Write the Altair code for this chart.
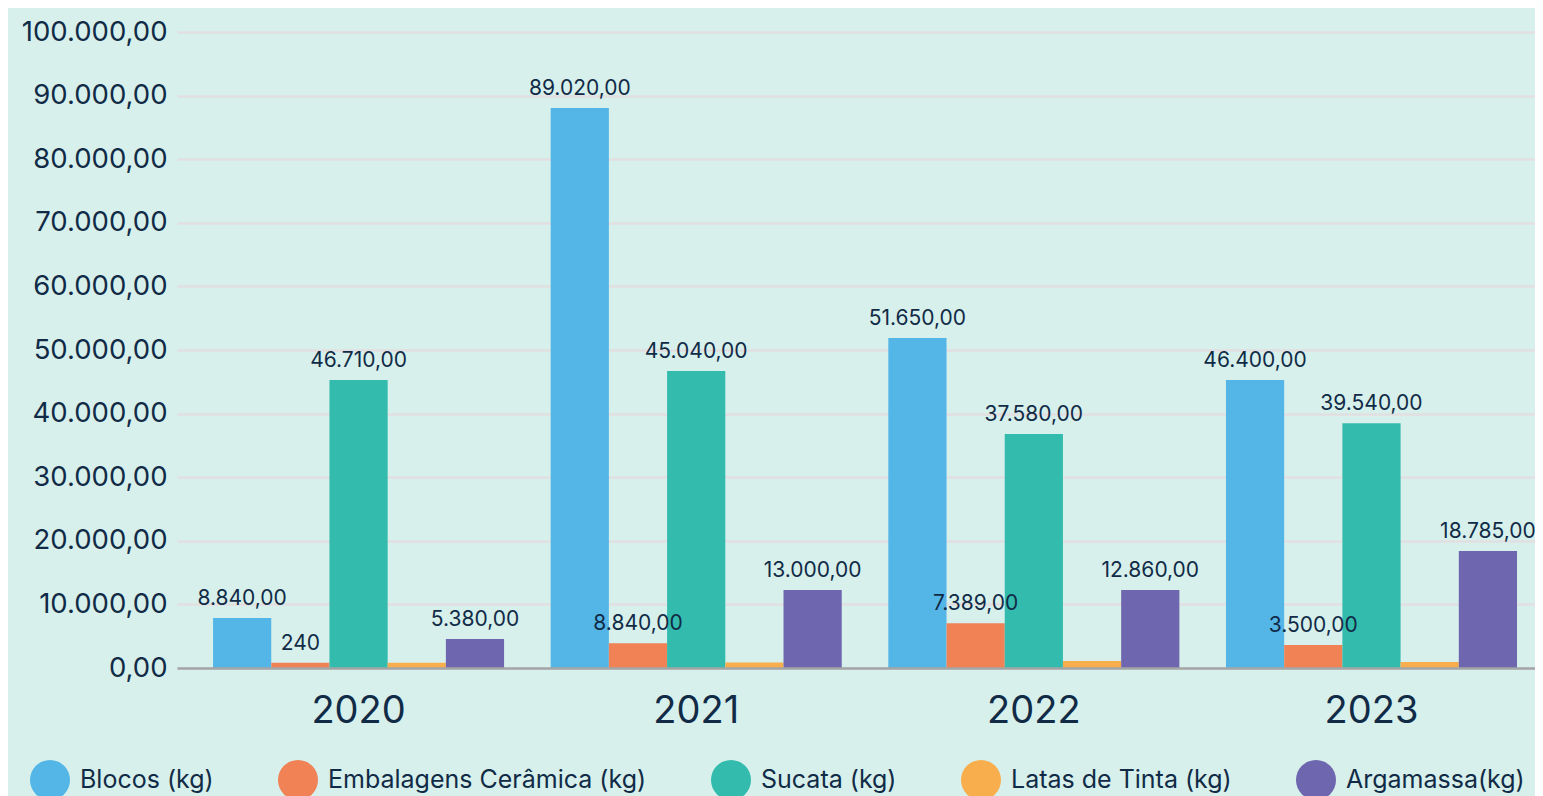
import altair as alt
import pandas as pd

years = ["2020", "2021", "2022", "2023"]
series = ["Blocos (kg)", "Embalagens Cerâmica (kg)", "Sucata (kg)", "Latas de Tinta (kg)", "Argamassa(kg)"]
colors = ["#54b6e7", "#f08256", "#33bbad", "#f8ae4c", "#6e66ae"]

blocos = [7850, 88050, 51900, 45300]
embalagens = [830, 3900, 7050, 3600]
sucata = [45300, 46700, 36800, 38500]
latas = [830, 850, 1100, 950]
argamassa = [4550, 12250, 12250, 18400]

blocos_lbl = ["8.840,00", "89.020,00", "51.650,00", "46.400,00"]
embalagens_lbl = ["240", "8.840,00", "7.389,00", "3.500,00"]
sucata_lbl = ["46.710,00", "45.040,00", "37.580,00", "39.540,00"]
latas_lbl = ["", "", "", ""]
argamassa_lbl = ["5.380,00", "13.000,00", "12.860,00", "18.785,00"]

y_ticks = [0, 10000, 20000, 30000, 40000, 50000, 60000, 70000, 80000, 90000, 100000]
y_tick_labels = ["0,00", "10.000,00", "20.000,00", "30.000,00", "40.000,00", "50.000,00",
                 "60.000,00", "70.000,00", "80.000,00", "90.000,00", "100.000,00"]

values = [blocos, embalagens, sucata, latas, argamassa]
labels = [blocos_lbl, embalagens_lbl, sucata_lbl, latas_lbl, argamassa_lbl]

rows = []
for s, vals, lbls in zip(series, values, labels):
    for y, v, l in zip(years, vals, lbls):
        rows.append({"ano": y, "serie": s, "valor": v, "rotulo": l})
df = pd.DataFrame(rows)

NAVY = "#112b47"
FONT = "Inter"

label_expr = "[" + ",".join("'%s'" % t for t in y_tick_labels) + "][round(datum.value/10000)]"

x_enc = alt.X("ano:N", sort=years,
              scale=alt.Scale(paddingInner=0.138, paddingOuter=0.08, align=0.667),
              axis=alt.Axis(title=None, labelAngle=0, labelFontSize=38, labelColor=NAVY,
                            labelFont=FONT, ticks=False, labelPadding=24,
                            domainColor="#a3a6a6", domainWidth=2.5, zindex=1))
xoff_enc = alt.XOffset("serie:N", sort=series, scale=alt.Scale(domain=series, paddingInner=0, paddingOuter=0))
y_enc = alt.Y("valor:Q", scale=alt.Scale(domain=[0, 100000], nice=False),
              axis=alt.Axis(title=None, values=y_ticks, labelExpr=label_expr, labelFontSize=27.5,
                            labelColor=NAVY, labelFont=FONT, ticks=False, domain=False,
                            labelPadding=10, gridColor="#e2dfe1", gridWidth=2.5))

bars = alt.Chart(df).mark_bar().encode(
    x=x_enc,
    xOffset=xoff_enc,
    y=y_enc,
    color=alt.Color("serie:N", sort=series,
                    scale=alt.Scale(domain=series, range=colors),
                    legend=alt.Legend(title=None, orient="none", legendX=-147, legendY=728,
                                      direction="horizontal", columns=5,
                                      symbolType="circle", symbolSize=1600, symbolStrokeWidth=0,
                                      symbolOpacity=1,
                                      labelFontSize=25, labelColor=NAVY, labelFont=FONT,
                                      labelOffset=10, columnPadding=64, labelLimit=600)),
)

texts = alt.Chart(df).mark_text(fontSize=21, color=NAVY, font=FONT, baseline="alphabetic",
                                align="center", dy=-13).encode(
    x=alt.X("ano:N", sort=years),
    xOffset=alt.XOffset("serie:N", sort=series),
    y=alt.Y("valor:Q"),
    text="rotulo:N",
)

chart = alt.layer(bars, texts).properties(
    width=1358, height=636,
    autosize=alt.AutoSizeParams(type="none"),
    padding={"left": 169, "top": 24, "right": 0, "bottom": 128},
    background="#d7f0ec",
).configure_view(stroke=None)

chart.save("out.html", embed_options={"renderer": "svg", "actions": False})
